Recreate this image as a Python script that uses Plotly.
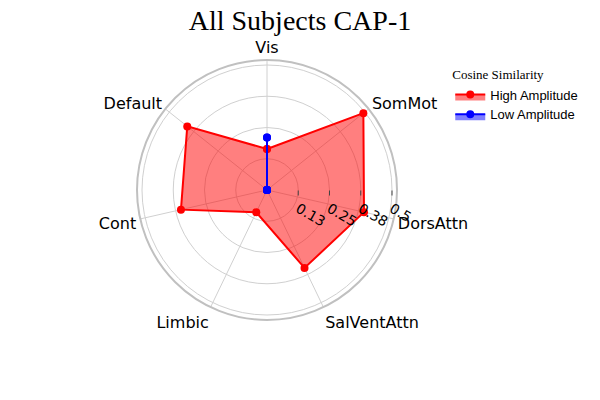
import plotly.graph_objects as go

categories = ["Vis", "SomMot", "DorsAttn", "SalVentAttn", "Limbic", "Cont", "Default"]
high_amplitude = [0.164, 0.493, 0.398, 0.346, 0.099, 0.353, 0.408]
low_amplitude = [0.21, 0.0, 0.0, 0.0, 0.0, 0.0, 0.0]
radial_tickvals = [0.125, 0.25, 0.375, 0.5]
radial_ticktext = ["0.13", "0.25", "0.38", "0.5"]

fig = go.Figure()
fig.add_trace(go.Scatterpolar(
    r=high_amplitude + high_amplitude[:1],
    theta=categories + categories[:1],
    mode="lines+markers",
    fill="toself",
    fillcolor="rgba(255,0,0,0.5)",
    line=dict(color="red", width=2),
    marker=dict(color="red", size=8),
    name="High Amplitude",
))
fig.add_trace(go.Scatterpolar(
    r=low_amplitude + low_amplitude[:1],
    theta=categories + categories[:1],
    mode="lines+markers",
    fill="toself",
    fillcolor="rgba(0,0,255,0.5)",
    line=dict(color="blue", width=2),
    marker=dict(color="blue", size=8),
    name="Low Amplitude",
))

fig.update_layout(
    width=600, height=400,
    paper_bgcolor="white",
    margin=dict(l=80, r=146, t=60, b=80),
    title=dict(text="All Subjects CAP-1", x=0.5, xanchor="center", y=0.95, yanchor="middle",
               font=dict(family="Liberation Serif", size=28, color="black")),
    legend=dict(
        title=dict(text="Cosine Similarity", font=dict(family="Liberation Serif", size=13, color="black")),
        font=dict(family="Liberation Sans", size=13, color="black"),
        x=0.99, y=0.99, xanchor="left", yanchor="top",
    ),
    polar=dict(
        bgcolor="white",
        angularaxis=dict(
            rotation=90, direction="clockwise",
            showline=True, linecolor="#c0c0c0", linewidth=2,
            gridcolor="#d0d0d0", ticks="",
            tickfont=dict(family="DejaVu Sans", size=16, color="black"),
        ),
        radialaxis=dict(
            range=[0, 0.52], angle=0, tickangle=30,
            tickvals=radial_tickvals, ticktext=radial_ticktext,
            showline=False, ticks="outside", ticklen=5, tickcolor="#444",
            gridcolor="#d0d0d0",
            tickfont=dict(family="DejaVu Sans", size=14, color="black"),
        ),
    ),
)

fig.write_html("out.html")
